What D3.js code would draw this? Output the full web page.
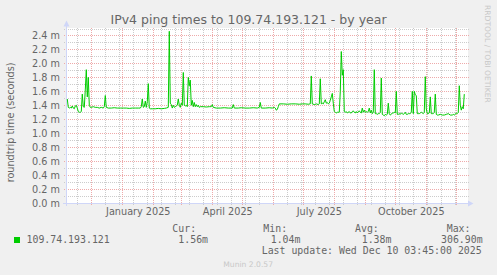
<!DOCTYPE html>
<html>
<head>
<meta charset="utf-8">
<script src="https://cdn.jsdelivr.net/npm/d3@7"></script>
<style>
    html, body { margin: 0; padding: 0; background: #f0f0f0; }
    svg { display: block; }
    text { font-family: "DejaVu Sans", sans-serif; fill: #666666; }
    .mono { font-family: "DejaVu Sans Mono", monospace; font-size: 9.9px; }
</style>
</head>
<body>
<div id="chart"></div>
<script>
// daily ping samples (ms)
const days = [
    "2024-11-07", "2024-11-08", "2024-11-09", "2024-11-10", "2024-11-11", "2024-11-12", "2024-11-13", "2024-11-14",
    "2024-11-15", "2024-11-16", "2024-11-17", "2024-11-18", "2024-11-19", "2024-11-20", "2024-11-21", "2024-11-22",
    "2024-11-23", "2024-11-24", "2024-11-25", "2024-11-26", "2024-11-27", "2024-11-28", "2024-11-29", "2024-11-30",
    "2024-12-01", "2024-12-03", "2024-12-05", "2024-12-07", "2024-12-09", "2024-12-11", "2024-12-13", "2024-12-14",
    "2024-12-15", "2024-12-16", "2024-12-18", "2024-12-21", "2024-12-24", "2024-12-27", "2024-12-30",
    "2025-01-02", "2025-01-05", "2025-01-08", "2025-01-11", "2025-01-14", "2025-01-17", "2025-01-19", "2025-01-20",
    "2025-01-21", "2025-01-22", "2025-01-23", "2025-01-24", "2025-01-25", "2025-01-26", "2025-01-27", "2025-01-28",
    "2025-01-29", "2025-01-31",
    "2025-02-03", "2025-02-06", "2025-02-09", "2025-02-12", "2025-02-14", "2025-02-16", "2025-02-17", "2025-02-18",
    "2025-02-19", "2025-02-20", "2025-02-21", "2025-02-22", "2025-02-23", "2025-02-24", "2025-02-25", "2025-02-26",
    "2025-02-27", "2025-02-28",
    "2025-03-01", "2025-03-02", "2025-03-03", "2025-03-04", "2025-03-05", "2025-03-06", "2025-03-07", "2025-03-08",
    "2025-03-09", "2025-03-10", "2025-03-11", "2025-03-12", "2025-03-13", "2025-03-14", "2025-03-15", "2025-03-16",
    "2025-03-17", "2025-03-18", "2025-03-19", "2025-03-20", "2025-03-23", "2025-03-26", "2025-03-29", "2025-03-31",
    "2025-04-01", "2025-04-02", "2025-04-05", "2025-04-09", "2025-04-13", "2025-04-17", "2025-04-21", "2025-04-22",
    "2025-04-23", "2025-04-27", "2025-04-30",
    "2025-05-04", "2025-05-08", "2025-05-12", "2025-05-16", "2025-05-18", "2025-05-19", "2025-05-20", "2025-05-24",
    "2025-05-28", "2025-05-31",
    "2025-06-02", "2025-06-03", "2025-06-04", "2025-06-05", "2025-06-06", "2025-06-07", "2025-06-11", "2025-06-15",
    "2025-06-19", "2025-06-23", "2025-06-27", "2025-06-30",
    "2025-07-03", "2025-07-06", "2025-07-08", "2025-07-09", "2025-07-10", "2025-07-12", "2025-07-14", "2025-07-16",
    "2025-07-17", "2025-07-18", "2025-07-19", "2025-07-20", "2025-07-21", "2025-07-22", "2025-07-23", "2025-07-24",
    "2025-07-25", "2025-07-26", "2025-07-27", "2025-07-28", "2025-07-29", "2025-07-30", "2025-07-31",
    "2025-08-01", "2025-08-02", "2025-08-03", "2025-08-04", "2025-08-05", "2025-08-06", "2025-08-07", "2025-08-08",
    "2025-08-09", "2025-08-10", "2025-08-11", "2025-08-12", "2025-08-13", "2025-08-14", "2025-08-15", "2025-08-16",
    "2025-08-17", "2025-08-18", "2025-08-19", "2025-08-20", "2025-08-21", "2025-08-22", "2025-08-23", "2025-08-24",
    "2025-08-25", "2025-08-26", "2025-08-27", "2025-08-28", "2025-08-29", "2025-08-30", "2025-08-31",
    "2025-09-01", "2025-09-02", "2025-09-03", "2025-09-04", "2025-09-05", "2025-09-06", "2025-09-07", "2025-09-08",
    "2025-09-09", "2025-09-10", "2025-09-11", "2025-09-12", "2025-09-13", "2025-09-14", "2025-09-15", "2025-09-16",
    "2025-09-17", "2025-09-18", "2025-09-19", "2025-09-20", "2025-09-21", "2025-09-22", "2025-09-23", "2025-09-24",
    "2025-09-25", "2025-09-26", "2025-09-27", "2025-09-28", "2025-09-29", "2025-09-30",
    "2025-10-01", "2025-10-02", "2025-10-03", "2025-10-04", "2025-10-05", "2025-10-06", "2025-10-07", "2025-10-08",
    "2025-10-09", "2025-10-10", "2025-10-11", "2025-10-12", "2025-10-13", "2025-10-14", "2025-10-15", "2025-10-16",
    "2025-10-17", "2025-10-18", "2025-10-19", "2025-10-20", "2025-10-21", "2025-10-22", "2025-10-23", "2025-10-24",
    "2025-10-25", "2025-10-26", "2025-10-27", "2025-10-28", "2025-10-29", "2025-10-30", "2025-10-31",
    "2025-11-01", "2025-11-02", "2025-11-03", "2025-11-04", "2025-11-05", "2025-11-06", "2025-11-07", "2025-11-08",
    "2025-11-09", "2025-11-10", "2025-11-11", "2025-11-12", "2025-11-13", "2025-11-15", "2025-11-17", "2025-11-19",
    "2025-11-21", "2025-11-23", "2025-11-25", "2025-11-27", "2025-11-28", "2025-11-29", "2025-11-30",
    "2025-12-01", "2025-12-02", "2025-12-03", "2025-12-04", "2025-12-05", "2025-12-06", "2025-12-07", "2025-12-08",
    "2025-12-09"
];

const rtt = [
    1.49, 1.37, 1.36, 1.37, 1.36, 1.39, 1.36, 1.35,
    1.39, 1.40, 1.36, 1.31, 1.30, 1.30, 1.31, 1.56,
    1.38, 1.37, 1.62, 1.91, 1.52, 1.80, 1.40, 1.37,
    1.37, 1.38, 1.37, 1.37, 1.36, 1.37, 1.36, 1.38,
    1.54, 1.37, 1.36, 1.36, 1.365, 1.36, 1.36,
    1.36, 1.36, 1.355, 1.36, 1.36, 1.36, 1.36, 1.38,
    1.49, 1.37, 1.38, 1.46, 1.37, 1.45, 1.71, 1.36,
    1.35, 1.35,
    1.35, 1.355, 1.35, 1.355, 1.36, 1.37, 2.46, 1.43,
    1.41, 1.36, 1.40, 1.37, 1.38, 1.39, 1.40, 1.49,
    1.40, 1.37,
    1.43, 1.40, 1.87, 1.40, 1.39, 1.40, 1.38, 1.80,
    1.68, 1.76, 1.40, 1.47, 1.38, 1.44, 1.38, 1.41,
    1.38, 1.40, 1.37, 1.38, 1.38, 1.375, 1.38, 1.38,
    1.41, 1.37, 1.36, 1.36, 1.365, 1.36, 1.36, 1.41,
    1.36, 1.36, 1.365,
    1.36, 1.36, 1.365, 1.36, 1.37, 1.44, 1.36, 1.36,
    1.365, 1.36,
    1.37, 1.36, 1.33, 1.34, 1.38, 1.42, 1.42, 1.415,
    1.42, 1.42, 1.415, 1.42,
    1.42, 1.415, 1.42, 1.82, 1.42, 1.41, 1.42, 1.41,
    1.42, 1.78, 1.42, 1.43, 1.42, 1.45, 1.48, 1.43,
    1.44, 1.42, 1.43, 1.47, 1.52, 1.57, 1.43,
    1.31, 1.30, 1.29, 1.30, 1.30, 1.30, 1.60, 2.17,
    1.83, 1.91, 1.31, 1.30, 1.31, 1.29, 1.30, 1.31,
    1.29, 1.29, 1.31, 1.32, 1.30, 1.29, 1.31, 1.29,
    1.31, 1.32, 1.30, 1.29, 1.36, 1.30, 1.33,
    1.30, 1.31, 1.30, 1.31, 1.36, 1.29, 1.33, 1.28,
    1.30, 1.91, 1.28, 1.28, 1.27, 1.28, 1.28, 1.30,
    1.79, 1.27, 1.26, 1.25, 1.27, 1.26, 1.27, 1.43,
    1.28, 1.26, 1.27, 1.29, 1.29, 1.30,
    1.29, 1.60, 1.27, 1.27, 1.28, 1.27, 1.29, 1.28,
    1.27, 1.28, 1.30, 1.27, 1.27, 1.28, 1.28, 1.28,
    1.30, 1.60, 1.28, 1.60, 1.55, 1.54, 1.28, 1.28,
    1.28, 1.29, 1.30, 1.29, 1.28, 1.30, 1.81,
    1.35, 1.28, 1.28, 1.29, 1.52, 1.28, 1.28, 1.28,
    1.30, 1.56, 1.27, 1.26, 1.26, 1.27, 1.26, 1.26,
    1.27, 1.28, 1.26, 1.26, 1.27, 1.26, 1.27,
    1.29, 1.28, 1.30, 1.68, 1.40, 1.33, 1.38, 1.35,
    1.56
];

const labelMonths = ["2025-01", "2025-04", "2025-07", "2025-10"];
const legendName = "109.74.193.121";
const legendStats = [
    {label: "Cur:", value: "1.56m"},
    {label: "Min:", value: "1.04m"},
    {label: "Avg:", value: "1.38m"},
    {label: "Max:", value: "306.90m"}
];

const width = 497, height = 275;
const parseDay = d3.timeParse("%Y-%m-%d");
const parseMonth = d3.timeParse("%Y-%m");

const data = days.map((d, i) => ({date: parseDay(d), value: rtt[i]}));

const tStart = new Date(2024, 10, 6, 17), tEnd = new Date(2025, 11, 11, 17);
const xScale = d3.scaleTime().domain([tStart, tEnd]).range([67, 467]);
const yScale = d3.scaleLinear().domain([0, 2.5]).range([203, 28.5]);

const crisp = v => Math.round(v) + 0.5;

const svg = d3.select("#chart")
    .append("svg")
    .attr("width", width)
    .attr("height", height);

svg.append("rect").attr("width", width).attr("height", height).attr("fill", "#f0f0f0");

// canvas
svg.append("rect")
    .attr("x", 67).attr("y", 28)
    .attr("width", 401).attr("height", 175)
    .attr("fill", "#ffffff");

const yTicks = yScale.ticks(25);
const yMajor = yTicks.filter(v => Math.round(v * 10) % 2 === 0);
const yMinor = yTicks.filter(v => Math.round(v * 10) % 2 === 1);

const xMajor = d3.timeMonth.range(tStart, tEnd);
const xMinor = d3.timeSunday.range(new Date(2024, 10, 17), tEnd, 2);

const grid = svg.append("g").attr("class", "grid");

function hLines(vals, color, cls) {
    grid.selectAll("line." + cls)
        .data(vals)
        .join("line")
        .attr("class", cls)
        .attr("x1", 64).attr("x2", 469)
        .attr("y1", d => crisp(yScale(d)))
        .attr("y2", d => crisp(yScale(d)))
        .attr("stroke", color)
        .attr("stroke-dasharray", "1 1");
}

function vLines(vals, color, cls) {
    grid.selectAll("line." + cls)
        .data(vals)
        .join("line")
        .attr("class", cls)
        .attr("x1", d => crisp(xScale(d)))
        .attr("x2", d => crisp(xScale(d)))
        .attr("y1", 28).attr("y2", 206)
        .attr("stroke", color)
        .attr("stroke-dasharray", "1 1");
}

hLines(yMinor, "#cccccc", "hmin");
vLines(xMinor, "#cccccc", "vmin");
hLines(yMajor.filter(v => v > 0), "#eeaaaa", "hmaj");
vLines(xMajor, "#eeaaaa", "vmaj");

// axes lines + arrows
svg.append("line")
    .attr("x1", 63).attr("x2", 468)
    .attr("y1", 203.5).attr("y2", 203.5)
    .attr("stroke", "#cfd6f8");
svg.append("line")
    .attr("x1", 66.5).attr("x2", 66.5)
    .attr("y1", 206).attr("y2", 25)
    .attr("stroke", "#cfd6f8");
svg.append("path")
    .attr("d", "M468,200.5L473.5,203.5L468,206.5Z")
    .attr("fill", "#cfd6f8");
svg.append("path")
    .attr("d", "M63.5,26.5L66.5,20.5L69.5,26.5Z")
    .attr("fill", "#cfd6f8");

// tick labels through d3 axes
const yAxis = d3.axisLeft(yScale)
    .tickValues(yMajor)
    .tickFormat(d => d.toFixed(1) + " m")
    .tickSize(0)
    .tickPadding(7);

const yG = svg.append("g")
    .attr("transform", "translate(67,0)")
    .call(yAxis);
yG.select(".domain").remove();
yG.selectAll("text")
    .attr("font-family", "DejaVu Sans")
    .attr("font-size", "9.7px")
    .attr("fill", "#666666");

const labelDates = labelMonths.map(m => {
    const s = parseMonth(m);
    const e = d3.timeMonth.offset(s, 1);
    return new Date((s.getTime() + e.getTime()) / 2);
});

const xAxis = d3.axisBottom(xScale)
    .tickValues(labelDates)
    .tickFormat(d3.timeFormat("%B %Y"))
    .tickSize(0)
    .tickPadding(5.5);

const xG = svg.append("g")
    .attr("transform", "translate(0,203)")
    .call(xAxis);
xG.select(".domain").remove();
xG.selectAll("text")
    .attr("font-family", "DejaVu Sans")
    .attr("font-size", "9.7px")
    .attr("fill", "#666666");

// data line
const line = d3.line()
    .x(d => xScale(d.date))
    .y(d => yScale(d.value));

svg.append("path")
    .datum(data)
    .attr("d", line)
    .attr("fill", "none")
    .attr("stroke", "#00cc00")
    .attr("stroke-width", 1);

// title
svg.append("text")
    .attr("x", 248.5).attr("y", 24)
    .attr("text-anchor", "middle")
    .attr("font-size", "12.5px")
    .text("IPv4 ping times to 109.74.193.121 - by year");

// y axis title
svg.append("text")
    .attr("transform", "translate(14,122.4) rotate(-90)")
    .attr("text-anchor", "middle")
    .attr("font-size", "9.7px")
    .text("roundtrip time (seconds)");

// watermark
svg.append("text")
    .attr("transform", "translate(485,5) rotate(90)")
    .attr("font-size", "7.6px")
    .style("fill", "#c8c8c8")
    .text("RRDTOOL / TOBI OETIKER");

// legend
svg.append("rect")
    .attr("x", 14).attr("y", 237)
    .attr("width", 6).attr("height", 6)
    .attr("fill", "#00cc00");

svg.append("text")
    .attr("class", "mono")
    .attr("x", 26.5).attr("y", 243)
    .text(legendName);

const statX = [[172.3, 178.3], [263.3, 270.7], [355, 361.7], [446.7, 441]];
legendStats.forEach((s, i) => {
    svg.append("text").attr("class", "mono")
        .attr("x", statX[i][0]).attr("y", 231.5)
        .text(s.label);
    svg.append("text").attr("class", "mono")
        .attr("x", statX[i][1]).attr("y", 243)
        .text(s.value);
});

svg.append("text")
    .attr("class", "mono")
    .attr("x", 261.7).attr("y", 254)
    .text("Last update: Wed Dec 10 03:45:00 2025");

svg.append("text")
    .attr("x", 223.3).attr("y", 267)
    .attr("font-size", "7.6px")
    .style("fill", "#c8c8c8")
    .text("Munin 2.0.57");
</script>
</body>
</html>
